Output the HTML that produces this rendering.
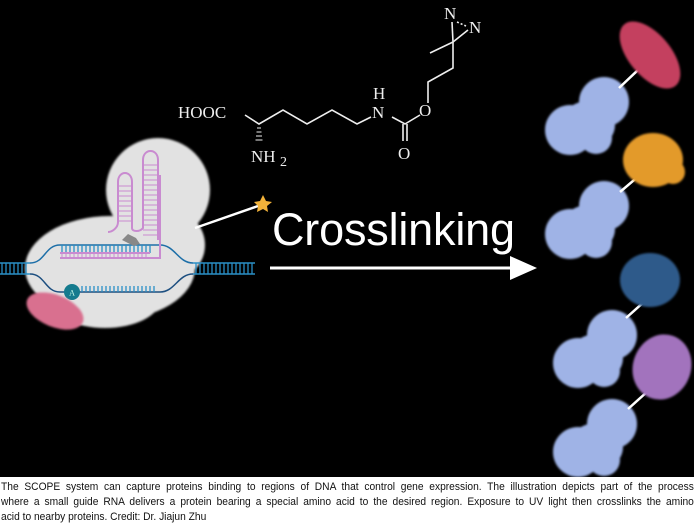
<!DOCTYPE html>
<html><head><meta charset="utf-8"><style>
html,body{margin:0;padding:0;width:694px;height:532px;overflow:hidden;background:#fff}
#art{position:absolute;left:0;top:0;width:694px;height:477px;background:#000}
.cap{position:absolute;left:1px;width:745px;transform:scaleX(0.93);transform-origin:0 0;font-family:"Liberation Sans",sans-serif;font-size:11px;color:#111;white-space:nowrap;overflow:hidden;text-align:justify;text-align-last:justify}
</style></head><body>
<div id="art">
<svg width="694" height="477" viewBox="0 0 694 477">
<defs><filter id="f" x="-10%" y="-10%" width="120%" height="120%"><feGaussianBlur stdDeviation="1"/></filter></defs>
<g fill="#e2e2e2" filter="url(#f)">
<circle cx="158" cy="190" r="52"/>
<ellipse cx="110" cy="268" rx="85" ry="52"/>
<circle cx="170" cy="245" r="35"/>
<ellipse cx="105" cy="300" rx="55" ry="28"/>
</g>
<g stroke="#2a8fc6" stroke-width="1.5" fill="none">
<line x1="0" y1="263" x2="30" y2="263"/><line x1="0" y1="274" x2="30" y2="274"/>
<line x1="193" y1="263" x2="255" y2="263"/><line x1="193" y1="274" x2="255" y2="274"/>
<path d="M30 263 C45 263,45 245,60 245 L160 245 C175 245,178 263,193 263" stroke="#1d6fa8"/>
<path d="M30 274 C45 274,45 292,60 292 L160 292 C175 292,178 274,193 274" stroke="#1d4f80"/>
</g>
<g stroke="#2a8fc6" stroke-width="1.3">
<path d="M2 263v11M6 263v11M10 263v11M14 263v11M18 263v11M22 263v11M26 263v11M196 263v11M200 263v11M204 263v11M208 263v11M212 263v11M216 263v11M220 263v11M224 263v11M228 263v11M232 263v11M236 263v11M240 263v11M244 263v11M248 263v11M252 263v11"/>
<path d="M62 245v8M66 245v8M70 245v8M74 245v8M78 245v8M82 245v8M86 245v8M90 245v8M94 245v8M98 245v8M102 245v8M106 245v8M110 245v8M114 245v8M118 245v8M122 245v8M126 245v8M130 245v8M134 245v8M138 245v8M142 245v8M146 245v8M150 245v8"/>
<path d="M82 292v-6M86 292v-6M90 292v-6M94 292v-6M98 292v-6M102 292v-6M106 292v-6M110 292v-6M114 292v-6M118 292v-6M122 292v-6M126 292v-6M130 292v-6M134 292v-6M138 292v-6M142 292v-6M146 292v-6M150 292v-6M154 292v-6"/>
</g>
<g stroke="#c98bd0" stroke-width="2" fill="none">
<path d="M60 258 L160 258 L160 175 M60 253 L150 253"/>
<path d="M108 232 C112 232,118 228,118 222 L118 182 C118 170,132 170,132 182 L132 228 C132 232,140 232,143 228 L143 160 C143 148,158 148,158 160 L158 240"/>
</g>
<g stroke="#c98bd0" stroke-width="1">
<path d="M118 186h14M118 191h14M118 196h14M118 201h14M118 206h14M118 211h14M118 216h14M118 221h14M143 165h15M143 170h15M143 175h15M143 180h15M143 185h15M143 190h15M143 195h15M143 200h15M143 205h15M143 210h15M143 215h15M143 220h15M143 225h15M143 230h15M143 235h15"/>
<path d="M62 253v5M66 253v5M70 253v5M74 253v5M78 253v5M82 253v5M86 253v5M90 253v5M94 253v5M98 253v5M102 253v5M106 253v5M110 253v5M114 253v5M118 253v5M122 253v5M126 253v5M130 253v5M134 253v5M138 253v5M142 253v5M146 253v5"/>
</g>
<path d="M122 240l6-6 8 4 4 6-6 2z" fill="#888"/>
<circle cx="72" cy="292" r="8" fill="#157b8e"/>
<text x="72" y="295.5" font-family="Liberation Serif" font-size="8" fill="#cfe" text-anchor="middle">A</text>
<ellipse cx="55" cy="311" rx="30" ry="16" transform="rotate(22 55 311)" fill="#d9708f" filter="url(#f)"/>
<line x1="195" y1="228" x2="258" y2="206" stroke="#fff" stroke-width="2.5"/>
<polygon points="263,195 266,201 272,202 267,206 268,212 263,209 257,212 258,206 254,202 260,201" fill="#f2b23a"/>
<text x="272" y="245" font-family="Liberation Sans" font-size="45" fill="#fff" textLength="243">Crosslinking</text>
<line x1="270" y1="268" x2="514" y2="268" stroke="#fff" stroke-width="3"/>
<polygon points="510,256 537,268 510,280" fill="#fff"/>
<g stroke="#eee" stroke-width="1.6" fill="none">
<polyline points="245,115 259,124 283,110 307,124 332,110 357,124 371,117"/>
<polyline points="392,117 405,124 420,115"/>
<line x1="403" y1="124" x2="403" y2="141"/><line x1="407" y1="124" x2="407" y2="141"/>
<polyline points="428,103 428,82 453,68 453,42"/>
<line x1="453" y1="42" x2="430" y2="53"/>
<line x1="453" y1="42" x2="452" y2="22"/><line x1="453" y1="42" x2="468" y2="30"/>
<line x1="457" y1="22" x2="466" y2="26" stroke-dasharray="2,2"/>
</g>
<g stroke="#eee" stroke-width="1"><path d="M257 128h4M256.5 132h5M256 136h6M255.5 140h7"/></g>
<g font-family="Liberation Serif" font-size="17" fill="#eee">
<text x="178" y="118">HOOC</text>
<text x="251" y="162">NH</text><text x="280" y="166" font-size="14">2</text>
<text x="372" y="118">N</text><text x="373" y="99">H</text>
<text x="419" y="116">O</text>
<text x="398" y="159">O</text>
<text x="444" y="19">N</text><text x="469" y="33">N</text>
</g>
<g fill="#9fb3e6" filter="url(#f)">
<g id="b"><circle cx="604" cy="102" r="25"/><circle cx="570" cy="130" r="25"/><ellipse cx="588" cy="125" rx="27" ry="24"/><circle cx="596" cy="138" r="16"/></g>
<use href="#b" y="104"/><use href="#b" x="8" y="233"/><use href="#b" x="8" y="322"/>
</g>
<g stroke="#fff" stroke-width="2.5">
<line x1="619" y1="88" x2="638" y2="70"/><line x1="620" y1="192" x2="640" y2="175"/>
<line x1="626" y1="318" x2="645" y2="301"/><line x1="628" y1="409" x2="648" y2="391"/>
</g>
<g filter="url(#f)">
<ellipse cx="650" cy="55" rx="40" ry="21" transform="rotate(50 650 55)" fill="#c4405f"/>
<ellipse cx="653" cy="160" rx="30" ry="27" fill="#e39a2a"/><circle cx="673" cy="172" r="12" fill="#e39a2a"/>
<ellipse cx="650" cy="280" rx="30" ry="27" fill="#2f5a8a"/>
<ellipse cx="662" cy="367" rx="29" ry="33" transform="rotate(20 662 367)" fill="#a273bd"/>
</g>
</svg>
</div>
<div class="cap" style="top:481px">The SCOPE system can capture proteins binding to regions of DNA that control gene expression. The illustration depicts part of the process</div>
<div class="cap" style="top:496px">where a small guide RNA delivers a protein bearing a special amino acid to the desired region. Exposure to UV light then crosslinks the amino</div>
<div class="cap" style="top:511px;text-align-last:left">acid to nearby proteins. Credit: Dr. Jiajun Zhu</div>
</body></html>
